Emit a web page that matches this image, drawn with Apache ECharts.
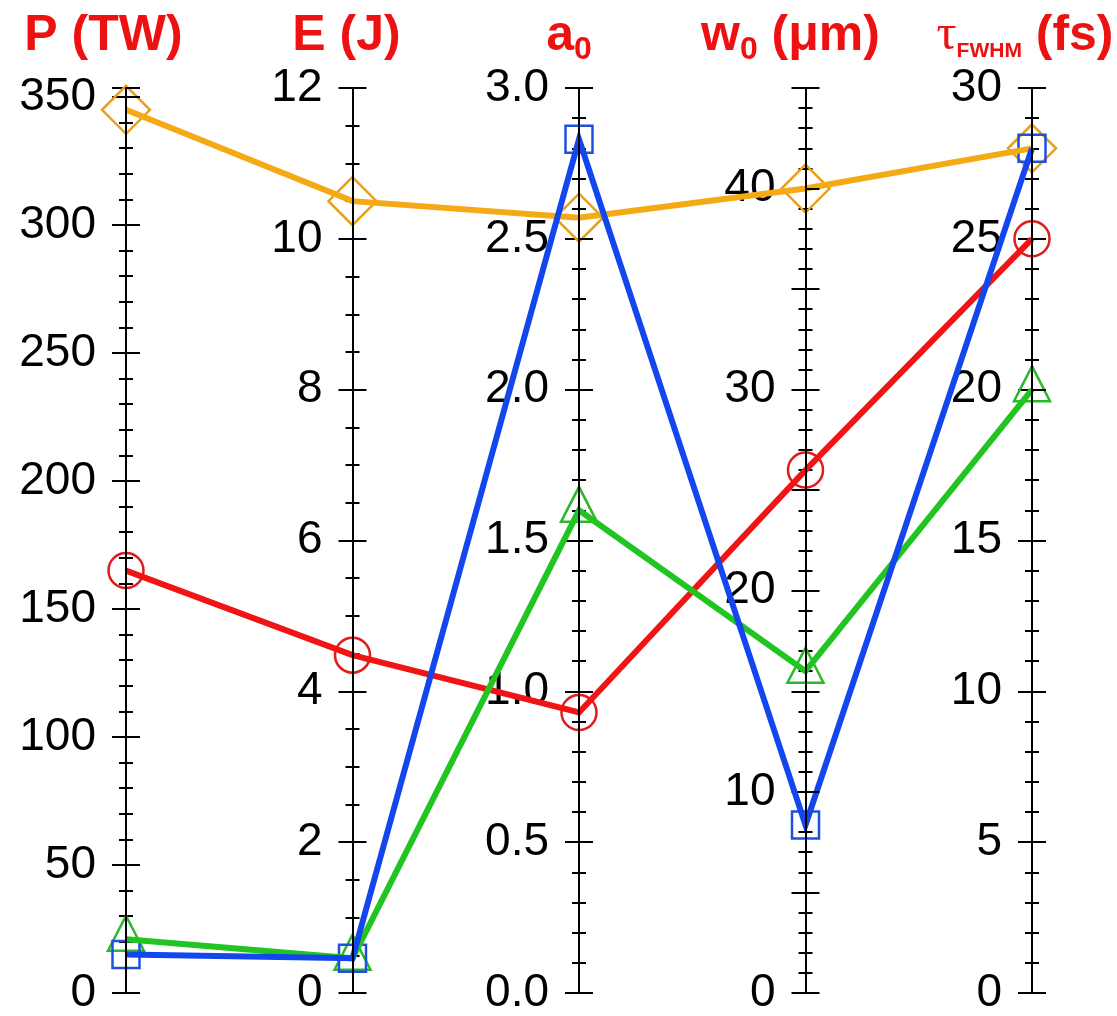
<!DOCTYPE html>
<html>
<head>
<meta charset="utf-8">
<script src="https://cdn.jsdelivr.net/npm/echarts@6/dist/echarts.min.js"></script>
<style>
  html, body { margin: 0; padding: 0; background: #fff; }
  #chart { width: 1117px; height: 1016px; }
</style>
</head>
<body>
<div id="chart"></div>
<script>
// axes of the parallel chart
const axisNames = [
  '{b|P (TW)}',
  '{b|E (J)}',
  '{b|a}{sub|0}',
  '{b|w}{sub|0}{b| (μm)}',
  '{tau|τ}{fw|FWHM}{b| (fs)}',
];
const axisMax = [353.5, 12, 3, 45, 30];
const majorStep = [50, 2, 0.5, 5, 5];
const minorStep = [10, 0.5, 0.1, 1, 1];
const labelStep = [50, 2, 0.5, 10, 5];
const labelDigits = [0, 0, 1, 0, 0];

// one row per laser
const orangeVals = [345, 10.5, 2.57, 40, 28];
const redVals = [165, 4.48, 0.93, 26, 25];
const greenVals = [21, 0.46, 1.6, 16, 20];
const blueVals = [15, 0.46, 2.83, 8.35, 28];

const rows = [
  { vals: orangeVals, line: '#F5A915', mark: '#E6A01E', symbol: 'diamond', size: [48, 48], offset: [0, 0] },
  { vals: redVals, line: '#F01414', mark: '#E01C1C', symbol: 'circle', size: 35, offset: [0, 0] },
  { vals: greenVals, line: '#22C422', mark: '#2CB82C', symbol: 'triangle', size: [36, 35], offset: [0, -6] },
  { vals: blueVals, line: '#1446EE', mark: '#1E50E0', symbol: 'rect', size: 27, offset: [0, 0] },
];

const LEFT = 126;
const RIGHT_X = 1032;
const TOP = 88;
const BOTTOM_Y = 993;
const stepX = (RIGHT_X - LEFT) / (axisNames.length - 1);
const namePad = [45, 12, 20, 30, 14];
const FONT = 'Liberation Sans, Arial, sans-serif';
const RED = '#EE1111';

const isMult = (v, s) => Math.abs(v / s - Math.round(v / s)) < 1e-6;

// parallel axes: axis line, right-side major ticks, names (labels come from the grids)
const parallelAxis = axisNames.map((name, i) => ({
  dim: i,
  name,
  min: 0,
  max: axisMax[i],
  interval: majorStep[i],
  nameLocation: 'end',
  nameGap: 22,
  nameTextStyle: {
    padding: [0, namePad[i], 0, 0],
    align: 'center',
    rich: {
      b: { fontSize: 50, fontWeight: 'bold', color: RED, fontFamily: FONT, lineHeight: 60 },
      sub: { fontSize: 32, fontWeight: 'bold', color: RED, fontFamily: FONT, lineHeight: 60, verticalAlign: 'bottom' },
      tau: { fontSize: 50, color: RED, fontFamily: 'Liberation Serif, serif', lineHeight: 60 },
      fw: { fontSize: 21, fontWeight: 'bold', color: RED, fontFamily: FONT, lineHeight: 60, verticalAlign: 'bottom', padding: [0, 0, 4, 0] },
    },
  },
  axisLine: { lineStyle: { color: '#000', width: 2 } },
  axisTick: { show: true, inside: false, length: 14, lineStyle: { color: '#000', width: 2 } },
  axisLabel: { color: 'rgba(0,0,0,0)', formatter: () => '' },
  splitLine: { show: false },
}));

// cartesian helpers aligned with each parallel axis: labels, left-side ticks, markers
const grids = [];
const xAxes = [];
const yAxes = [];
const scatterSeries = [];
axisNames.forEach((n, i) => {
  grids.push({ left: LEFT + i * stepX, top: TOP, width: 20, height: BOTTOM_Y - TOP, containLabel: false });
  xAxes.push({ gridIndex: i, type: 'value', min: 0, max: 1, show: false });
  const base = {
    gridIndex: i, type: 'value', position: 'left', min: 0, max: axisMax[i],
    axisLine: { show: false }, axisLabel: { show: false }, splitLine: { show: false },
  };
  yAxes.push({
    ...base,
    interval: majorStep[i],
    axisTick: { show: true, inside: false, length: 14, lineStyle: { color: '#000', width: 2 } },
    axisLabel: {
      show: true,
      margin: 30,
      fontSize: 46,
      color: '#000',
      fontFamily: FONT,
      showMaxLabel: true,
      formatter: (v) => (isMult(v, labelStep[i]) ? v.toFixed(labelDigits[i]) : ''),
    },
  });
  yAxes.push({ ...base, interval: minorStep[i], axisTick: { show: true, inside: true, length: 7, lineStyle: { color: '#000', width: 2 } } });
  yAxes.push({ ...base, interval: minorStep[i], axisTick: { show: true, inside: false, length: 7, lineStyle: { color: '#000', width: 2 } } });
  rows.forEach((r) => {
    scatterSeries.push({
      type: 'scatter',
      xAxisIndex: i,
      yAxisIndex: i * 3,
      symbol: r.symbol,
      symbolSize: r.size,
      symbolOffset: r.offset,
      z: 1,
      silent: true,
      itemStyle: { color: 'rgba(0,0,0,0)', borderColor: r.mark, borderWidth: 2.5, opacity: 1 },
      data: [[0, r.vals[i]]],
    });
  });
});

const lineSeries = rows.map((r) => ({
  type: 'parallel',
  z: 3,
  silent: true,
  smooth: false,
  lineStyle: { color: r.line, width: 6, opacity: 1 },
  data: [r.vals],
}));

const chart = echarts.init(document.getElementById('chart'), null, { renderer: 'canvas' });
chart.setOption({
  animation: false,
  backgroundColor: '#fff',
  parallel: { left: LEFT, right: 1117 - RIGHT_X, top: TOP, bottom: 1016 - BOTTOM_Y },
  parallelAxis,
  grid: grids,
  xAxis: xAxes,
  yAxis: yAxes,
  series: [...scatterSeries, ...lineSeries],
});
</script>
</body>
</html>
